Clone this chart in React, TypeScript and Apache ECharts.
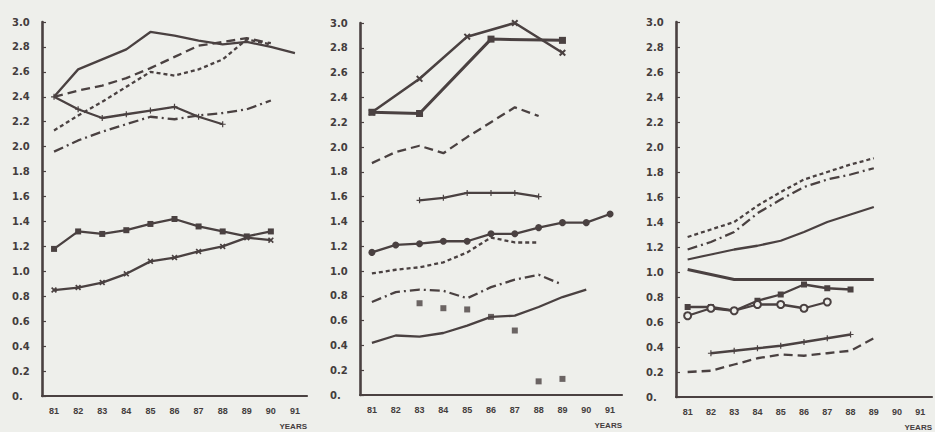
import React, { useEffect, useRef } from "react";
import * as echarts from "echarts";

// ---------- data ----------
const years = ["81", "82", "83", "84", "85", "86", "87", "88", "89", "90", "91"];

// panel 1
const p1Top = [2.4, 2.62, 2.7, 2.78, 2.92, 2.89, 2.85, 2.82, 2.84, 2.8, 2.75];
const p1LongDash = [2.4, 2.45, 2.49, 2.55, 2.63, 2.72, 2.81, 2.84, 2.87, 2.83, null];
const p1ShortDash = [2.13, 2.25, 2.36, 2.48, 2.6, 2.57, 2.62, 2.7, 2.86, 2.82, null];
const p1Falling = [2.4, 2.3, 2.23, 2.26, 2.29, 2.32, 2.24, 2.18, null, null, null];
const p1DashDot = [1.96, 2.05, 2.12, 2.18, 2.24, 2.22, 2.25, 2.27, 2.3, 2.37, null];
const p1Squares = [1.18, 1.32, 1.3, 1.33, 1.38, 1.42, 1.36, 1.32, 1.28, 1.32, null];
const p1Crosses = [0.85, 0.87, 0.91, 0.98, 1.08, 1.11, 1.16, 1.2, 1.27, 1.25, null];

// panel 2
const p2Crosses = [2.28, null, 2.55, null, 2.89, null, 3.0, null, 2.76, null, null];
const p2Squares = [2.28, null, 2.27, null, null, 2.87, null, null, 2.86, null, null];
const p2LongDash = [1.87, 1.96, 2.01, 1.95, 2.08, 2.2, 2.32, 2.25, null, null, null];
const p2Plus = [null, null, 1.57, 1.59, 1.63, 1.63, 1.63, 1.6, null, null, null];
const p2Circles = [1.15, 1.21, 1.22, 1.24, 1.24, 1.3, 1.3, 1.35, 1.39, 1.39, 1.46];
const p2ShortDash = [0.98, 1.01, 1.03, 1.07, 1.15, 1.27, 1.23, 1.23, null, null, null];
const p2DashDot = [0.75, 0.83, 0.85, 0.84, 0.78, 0.87, 0.93, 0.97, 0.89, null, null];
const p2Solid = [0.42, 0.48, 0.47, 0.5, 0.56, 0.63, 0.64, 0.71, 0.79, 0.85, null];
const p2Scatter = [null, null, 0.74, 0.7, 0.69, 0.63, 0.52, 0.11, 0.13, null, null];

// panel 3
const p3ShortDash = [1.28, 1.34, 1.4, 1.53, 1.64, 1.74, 1.8, 1.86, 1.91, null, null];
const p3DashDot = [1.18, 1.24, 1.32, 1.47, 1.58, 1.68, 1.74, 1.78, 1.83, null, null];
const p3Solid = [1.1, 1.14, 1.18, 1.21, 1.25, 1.32, 1.4, 1.46, 1.52, null, null];
const p3Flat = [1.02, 0.98, 0.94, 0.94, 0.94, 0.94, 0.94, 0.94, 0.94, null, null];
const p3Squares = [0.72, 0.72, 0.69, 0.77, 0.82, 0.9, 0.87, 0.86, null, null, null];
const p3Circles = [0.65, 0.71, 0.69, 0.74, 0.74, 0.71, 0.76, null, null, null, null];
const p3Plus = [null, 0.35, 0.37, 0.39, 0.41, 0.44, 0.47, 0.5, null, null, null];
const p3LongDash = [0.2, 0.21, 0.26, 0.31, 0.34, 0.33, 0.35, 0.37, 0.47, null, null];

// ---------- styling ----------
const INK = "#4a4141";
const TXT = "#443d3d";
const BG = "#eeefeb";
const CROSS = "path://M2,0L5,3L8,0L10,2L7,5L10,8L8,10L5,7L2,10L0,8L3,5L0,2Z";
const PLUS = "path://M4,0H6V4H10V6H6V10H4V6H0V4H4Z";
const LONG = [9, 5];
const SHORT = [4, 3];
const DASHDOT = [10, 4, 2, 4];

type Opt = { dash?: any; width?: number; symbol?: string; size?: number; hollow?: boolean };

function line(grid: number, data: (number | null)[], o: Opt = {}) {
  const symbol = o.symbol || "none";
  return {
    type: "line",
    xAxisIndex: grid,
    yAxisIndex: grid,
    data,
    connectNulls: true,
    silent: true,
    symbol,
    showSymbol: symbol !== "none",
    symbolSize: o.size || 6,
    lineStyle: { color: INK, width: o.width || 2.3, type: o.dash || "solid" },
    itemStyle: o.hollow
      ? { color: BG, borderColor: INK, borderWidth: 2 }
      : { color: INK, borderWidth: 0 },
  };
}

const grids = [
  { left: 42, top: 22, width: 265, height: 374 },
  { left: 360, top: 23, width: 262, height: 372 },
  { left: 676, top: 22, width: 265, height: 375 },
];

function makeOption() {
  const xAxis = grids.map((_, i) => ({
    type: "category",
    gridIndex: i,
    data: years,
    boundaryGap: true,
    axisLine: { lineStyle: { color: INK, width: 2.2 } },
    axisTick: { inside: true, length: 5, interval: 0, lineStyle: { color: INK, width: 1.5 } },
    axisLabel: {
      interval: 0,
      margin: 10,
      color: TXT,
      fontSize: 9,
      fontWeight: "bold",
      fontFamily: "Liberation Sans",
    },
    splitLine: { show: false },
    name: "YEARS",
    nameLocation: "end",
    nameGap: 0,
    nameTextStyle: {
      align: "right",
      verticalAlign: "top",
      padding: [26, 0, 0, 0],
      color: TXT,
      fontSize: 8,
      fontWeight: "bold",
      fontFamily: "Liberation Sans",
    },
  }));
  const yAxis = grids.map((_, i) => ({
    type: "value",
    gridIndex: i,
    min: 0,
    max: 3,
    interval: 0.2,
    axisLine: { show: true, lineStyle: { color: INK, width: 2.6 } },
    axisTick: { show: true, inside: true, length: 4, lineStyle: { color: INK, width: 1.2 } },
    splitLine: { show: false },
    axisLabel: {
      formatter: (v: number) => (Math.abs(v) < 1e-9 ? "0." : v.toFixed(1)),
      align: "left",
      margin: 30,
      color: TXT,
      fontSize: 10,
      fontWeight: "bold",
      fontFamily: "DejaVu Sans",
    },
  }));

  const series = [
    // panel 1
    line(0, p1Top),
    line(0, p1LongDash, { dash: LONG }),
    line(0, p1ShortDash, { dash: SHORT }),
    line(0, p1Falling, { symbol: PLUS, size: 6 }),
    line(0, p1DashDot, { dash: DASHDOT }),
    line(0, p1Squares, { symbol: "rect", size: 6 }),
    line(0, p1Crosses, { symbol: CROSS, size: 6 }),
    // panel 2
    line(1, p2Crosses, { symbol: CROSS, size: 7, width: 2.6 }),
    line(1, p2Squares, { symbol: "rect", size: 7, width: 3 }),
    line(1, p2LongDash, { dash: LONG }),
    line(1, p2Plus, { symbol: PLUS, size: 6 }),
    line(1, p2Circles, { symbol: "circle", size: 7 }),
    line(1, p2ShortDash, { dash: SHORT }),
    line(1, p2DashDot, { dash: DASHDOT }),
    line(1, p2Solid),
    {
      type: "scatter",
      xAxisIndex: 1,
      yAxisIndex: 1,
      data: p2Scatter,
      symbol: "rect",
      symbolSize: 6,
      silent: true,
      itemStyle: { color: INK },
    },
    // panel 3
    line(2, p3ShortDash, { dash: SHORT }),
    line(2, p3DashDot, { dash: DASHDOT }),
    line(2, p3Solid),
    line(2, p3Flat, { width: 3 }),
    line(2, p3Squares, { symbol: "rect", size: 6 }),
    line(2, p3Circles, { symbol: "circle", size: 7, hollow: true }),
    line(2, p3Plus, { symbol: PLUS, size: 6 }),
    line(2, p3LongDash, { dash: LONG }),
  ];

  return {
    animation: false,
    backgroundColor: BG,
    grid: grids.map((g) => ({ ...g, containLabel: false })),
    xAxis,
    yAxis,
    series,
  };
}

export default function App() {
  const ref = useRef<HTMLDivElement>(null);
  useEffect(() => {
    document.body.style.margin = "0";
    document.body.style.background = BG;
    const chart = echarts.init(ref.current!, undefined, { renderer: "svg" });
    chart.setOption(makeOption() as any);
    return () => chart.dispose();
  }, []);
  return (
    <div
      ref={ref}
      style={{ position: "fixed", left: 0, top: 0, width: 935, height: 432, background: BG }}
    />
  );
}
